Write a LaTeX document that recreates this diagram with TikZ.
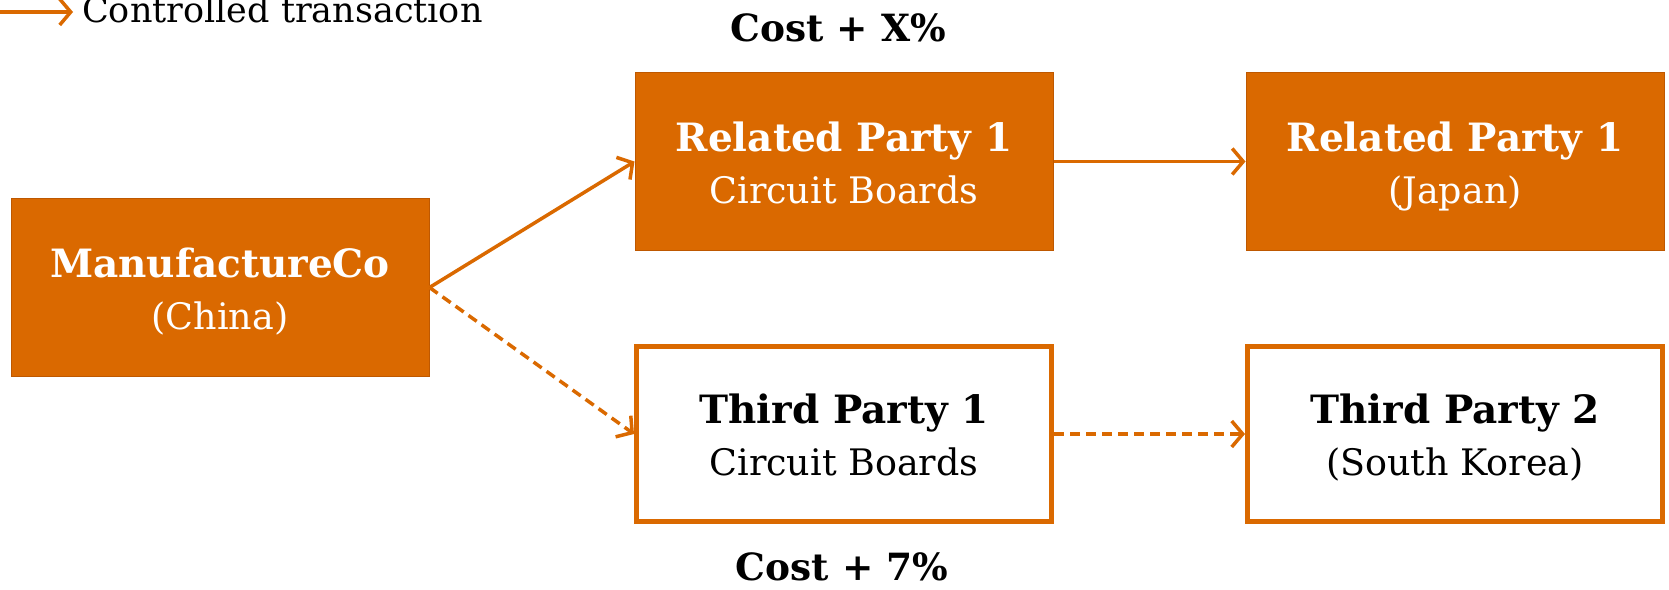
\documentclass[tikz,border=0pt]{standalone}
\usepackage{fontspec}
\setmainfont{DejaVu Serif}
\usetikzlibrary{arrows.meta}
\definecolor{accent}{RGB}{218,105,0}
\definecolor{accentdark}{RGB}{190,88,0}
% two-line entity label: bold name over a regular line, with fixed struts
\newcommand{\entitytext}[2]{{\fontsize{39}{52}\selectfont\bfseries\rule{0pt}{43pt}#1}\\{\rule[-12pt]{0pt}{12pt}#2}}
\tikzset{
  filledbox/.style={fill=accent, draw=accentdark, line width=1pt, text=white,
    minimum width=418pt, minimum height=178pt, align=center, inner sep=0pt},
  openbox/.style={fill=white, draw=accent, line width=5pt, text=black,
    minimum width=415pt, minimum height=175pt, align=center, inner sep=0pt},
  flow/.style={draw=accent, line width=3.5pt, -{Straight Barb[length=11pt,width=26pt,line width=3.5pt]}},
  flowdash/.style={flow, dash pattern=on 10pt off 6pt},
  boxfont/.style={font=\fontsize{36.5}{52}\selectfont},
  tag/.style={font=\fontsize{37.5}{44}\selectfont\bfseries, inner sep=0pt},
}
\begin{document}
\begin{tikzpicture}[x=1pt, y=-1pt]
  \useasboundingbox (0,0) rectangle (1669,589);
  % legend
  \coordinate (legA) at (0,12);
  \coordinate (legB) at (73,12);
  \draw[flow] (legA) -- (legB);
  \node[anchor=base west, inner sep=0pt, font=\fontsize{35}{40}\selectfont] (legtext) at (82,22) {Controlled transaction};
  % entities
  \node[filledbox, boxfont] (mfg) at (220,287.5) {\entitytext{ManufactureCo}{(China)}};
  \node[filledbox, boxfont] (rp1) at (844,161.5) {\entitytext{Related Party 1}{Circuit Boards}};
  \node[filledbox, boxfont] (rpj) at (1455,161.5) {\entitytext{Related Party 1}{(Japan)}};
  \node[openbox, boxfont] (tp1) at (844,434) {\entitytext{Third Party 1}{Circuit Boards}};
  \node[openbox, boxfont] (tp2) at (1455,434) {\entitytext{Third Party 2}{(South Korea)}};
  % pricing labels
  \node[tag] (costx) at (838,28) {Cost + X\%};
  \node[tag] (cost7) at (842,567) {Cost + 7\%};
  % transactions
  \draw[flow] (mfg.east) -- (rp1.west);
  \draw[flowdash] (mfg.east) -- (tp1.west);
  \draw[flow] (rp1.east) -- (rpj.west);
  \draw[flowdash] (tp1.east) -- (tp2.west);
\end{tikzpicture}
\end{document}
